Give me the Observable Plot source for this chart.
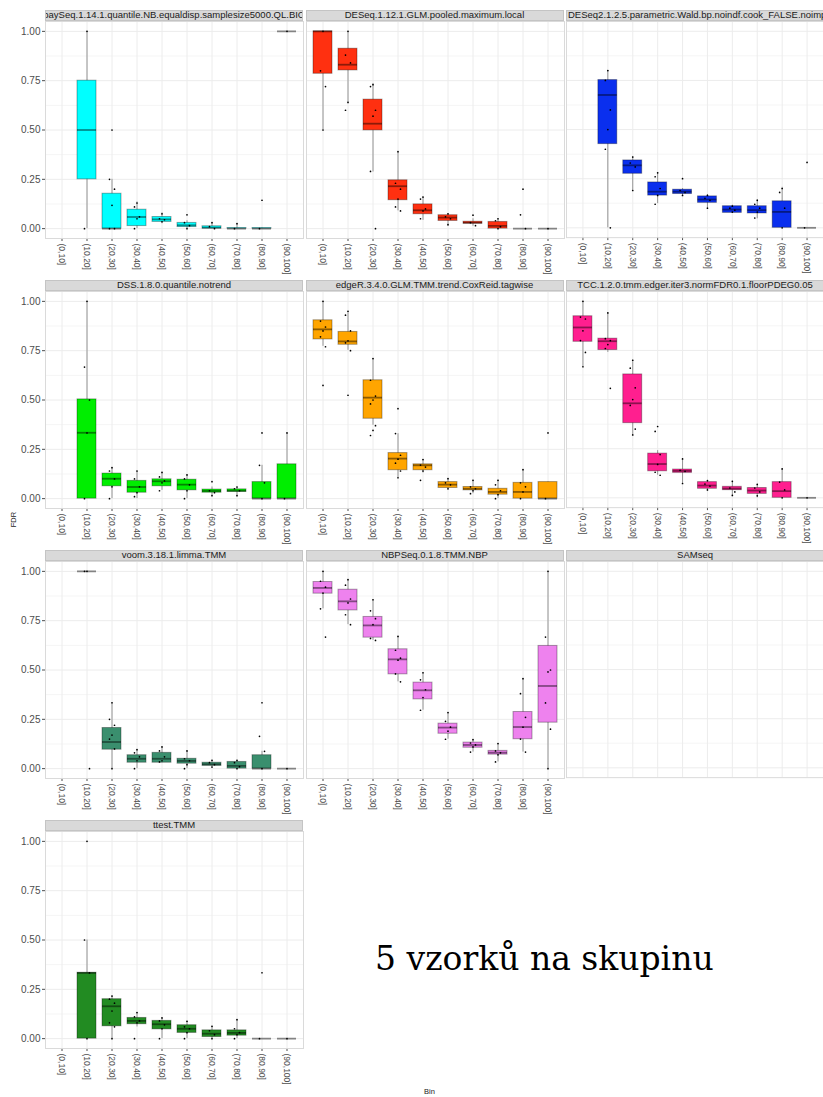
<!DOCTYPE html>
<html><head><meta charset="utf-8">
<script src="https://cdn.jsdelivr.net/npm/d3@7"></script>
<script src="https://cdn.jsdelivr.net/npm/@observablehq/plot@0.6"></script>
<style>
html,body{margin:0;padding:0;background:#fff;overflow:hidden;}
#fig{position:relative;width:823px;height:1097px;font-family:"Liberation Sans",Arial,sans-serif;overflow:hidden;}
.strip{position:absolute;background:#d9d9d9;border:1px solid #c4c4c4;box-sizing:border-box;overflow:hidden;display:flex;justify-content:center;align-items:center;white-space:nowrap;font-size:9.5px;line-height:10px;color:#1a1a1a;}
.strip span{flex-shrink:0;}
.panel{position:absolute;}
.panel svg g[aria-label="y-axis tick label"] text{font-size:10px;}
.lab{position:absolute;font-size:7.5px;color:#1a1a1a;white-space:nowrap;}
.note{position:absolute;font-family:"DejaVu Serif",serif;font-size:33px;color:#000;white-space:nowrap;line-height:34px;}
</style></head><body><div id="fig"></div><script>
const bins = ["(0,10]","(10,20]","(20,30]","(30,40]","(40,50]","(50,60]","(60,70]","(70,80]","(80,90]","(90,100]"];
const yTicks = [0, 0.25, 0.5, 0.75, 1];
const yMinor = [0.125, 0.375, 0.625, 0.875];

const methodNames = [
  "baySeq.1.14.1.quantile.NB.equaldisp.samplesize5000.QL.BIC",
  "DESeq.1.12.1.GLM.pooled.maximum.local",
  "DESeq2.1.2.5.parametric.Wald.bp.noindf.cook_FALSE.noimpute",
  "DSS.1.8.0.quantile.notrend",
  "edgeR.3.4.0.GLM.TMM.trend.CoxReid.tagwise",
  "TCC.1.2.0.tmm.edger.iter3.normFDR0.1.floorPDEG0.05",
  "voom.3.18.1.limma.TMM",
  "NBPSeq.0.1.8.TMM.NBP",
  "SAMseq",
  "ttest.TMM"
];
const methodColors = ["#00FFFF","#FF3010","#0A2FEE","#00EE00","#FFA500","#FF1F8F","#3A8F6E","#EE82EE",null,"#228B22"];

// per bin: [lower whisker, q1, median, q3, upper whisker]
const baySeqStats = [null,[0,0.25,0.5,0.75,1],[0,0,0,0.177,0.25],[0,0.013,0.059,0.096,0.135],[0.025,0.034,0.047,0.059,0.08],[0,0.008,0.017,0.029,0.04],[0,0,0.005,0.012,0.03],[0,0,0,0.003,0.025],[0,0,0,0.003,0.003],[1,1,1,1,1]];
const DESeqStats = [[0.5,0.785,1,1,1],[0.637,0.802,0.831,0.912,1],[0.287,0.498,0.532,0.654,0.735],[0.09,0.144,0.215,0.245,0.389],[0.042,0.073,0.093,0.123,0.16],[0.012,0.039,0.056,0.068,0.076],[0.012,0.025,0.03,0.035,0.05],[0,0,0.014,0.034,0.05],[0,0,0,0,0],[0,0,0,0,0]];
const DESeq2Stats = [null,[0,0.426,0.676,0.752,0.8],[0.186,0.275,0.318,0.343,0.363],[0.123,0.164,0.184,0.231,0.282],[0.164,0.172,0.184,0.194,0.2],[0.101,0.127,0.144,0.16,0.169],[0.073,0.076,0.093,0.11,0.115],[0.046,0.073,0.09,0.11,0.144],[0,0,0.081,0.135,0.206],[0,0,0,0,0]];
const DSSStats = [null,[0,0,0.334,0.503,1],[0,0.0625,0.101,0.127,0.157],[0,0.03,0.059,0.09,0.139],[0.042,0.0625,0.088,0.098,0.133],[0,0.042,0.071,0.096,0.122],[0.014,0.03,0.039,0.046,0.059],[0.014,0.034,0.04,0.047,0.059],[0,0,0,0.084,0.169],[0,0,0,0.174,0.333]];
const edgeRStats = [[0.772,0.807,0.858,0.904,1],[0.752,0.78,0.797,0.845,0.946],[0.372,0.405,0.512,0.6,0.71],[0.106,0.144,0.203,0.231,0.329],[0.13,0.144,0.169,0.174,0.198],[0.042,0.054,0.071,0.084,0.101],[0.025,0.042,0.05,0.059,0.093],[0,0.02,0.034,0.05,0.093],[0,0,0.034,0.08,0.147],[0,0,0,0.084,0.084]];
const TCCStats = [[0.667,0.794,0.867,0.924,1],[0.74,0.752,0.797,0.81,0.941],[0.321,0.38,0.481,0.628,0.701],[0.115,0.135,0.172,0.225,0.24],[0.073,0.127,0.137,0.144,0.198],[0.034,0.046,0.0625,0.08,0.088],[0.012,0.039,0.047,0.056,0.084],[0,0.02,0.037,0.05,0.068],[0,0,0.034,0.08,0.147],[0,0,0,0,0]];
const voomStats = [null,[1,1,1,1,1],[0,0.096,0.135,0.206,0.334],[0,0.03,0.05,0.068,0.096],[0.03,0.03,0.05,0.08,0.11],[0,0.025,0.039,0.05,0.09],[0.008,0.014,0.022,0.03,0.042],[0,0,0.014,0.034,0.042],[0,0,0,0.068,0.088],[0,0,0,0,0]];
const NBPSeqStats = [[0.81,0.887,0.916,0.946,1],[0.73,0.802,0.848,0.907,0.958],[0.65,0.664,0.726,0.769,0.856],[0.44,0.478,0.554,0.605,0.67],[0.296,0.351,0.397,0.436,0.486],[0.149,0.177,0.208,0.228,0.284],[0.084,0.106,0.12,0.132,0.147],[0.034,0.071,0.081,0.09,0.127],[0.084,0.149,0.211,0.287,0.456],[0,0.233,0.419,0.622,1]];
const SAMseqStats = [null,null,null,null,null,null,null,null,null,null];
const ttestStats = [null,[0,0,0.333,0.334,0.5],[0,0.0625,0.164,0.2,0.216],[0.059,0.073,0.09,0.105,0.132],[0,0.047,0.073,0.09,0.105],[0,0.029,0.05,0.068,0.088],[0,0.008,0.025,0.042,0.0625],[0,0.015,0.029,0.042,0.096],[0,0,0,0,0],[0,0,0,0,0]];

// individual FDR values per bin (points)
const baySeqPts = [[],[1,0],[0.5,0.25,0.2,0.118,0,0],[0.13,0.11,0.06,0.05,0],[0.075,0.05,0.045,0.035],[0.07,0.03,0.015,0],[0.03,0.01,0],[0.025,0],[0.144,0],[1]];
const DESeqPts = [[1,0.8,0.72,0.5],[1,0.88,0.84,0.64,0.6],[0.73,0.72,0.6,0.57,0.29,0],[0.39,0.23,0.2,0.15,0.11,0.09],[0.16,0.15,0.1,0.09,0.05],[0.075,0.06,0.05,0.02],[0.068,0.03,0.015],[0.05,0.04,0.01,0],[0.2,0.07,0],[0]];
const DESeq2Pts = [[],[0.8,0.75,0.6,0.5,0.4,0],[0.36,0.33,0.31,0.19],[0.28,0.26,0.2,0.165,0.12],[0.25,0.19,0.18,0.165],[0.165,0.15,0.14,0.1],[0.11,0.1,0.09,0.08],[0.14,0.12,0.1,0.08,0.05],[0.2,0.18,0.1,0],[0.333,0]];
const DSSPts = [[],[1,0.667,0.5,0.333,0],[0.157,0.14,0.1,0.06,0],[0.14,0.1,0.06,0.03,0.01],[0.133,0.11,0.09,0.08,0.04],[0.12,0.1,0.07,0.04,0],[0.086,0.04,0.03,0.015],[0.059,0.05,0.04,0.015],[0.333,0.169,0.08,0],[0.333,0]];
const edgeRPts = [[1,0.9,0.87,0.85,0.82,0.77,0.574],[0.95,0.93,0.85,0.8,0.79,0.75,0.524],[0.71,0.6,0.52,0.5,0.48,0.37,0.346,0.32],[0.456,0.33,0.22,0.2,0.18,0.14,0.106],[0.198,0.17,0.16,0.14,0.093],[0.101,0.08,0.07,0.05],[0.093,0.06,0.05,0.04,0.025],[0.093,0.07,0.04,0.02,0],[0.147,0.08,0.06,0.034,0],[0.333,0]];
const TCCPts = [[1,0.92,0.91,0.85,0.8,0.74,0.667],[0.941,0.81,0.8,0.78,0.76,0.557],[0.7,0.66,0.56,0.5,0.47,0.35,0.32],[0.363,0.338,0.22,0.17,0.13,0.115],[0.198,0.14,0.135,0.073],[0.088,0.07,0.06,0.04],[0.084,0.05,0.03,0.012],[0.068,0.05,0.03,0.01],[0.147,0.08,0.04,0],[0]];
const voomPts = [[],[1,1,0],[0.334,0.25,0.22,0.17,0.15,0.1,0],[0.096,0.08,0.06,0.04,0],[0.11,0.09,0.06,0.04,0.034],[0.09,0.05,0.04,0.02,0],[0.042,0.03,0.02,0.008],[0.042,0.03,0.01,0],[0.334,0.164,0.088,0],[0]];
const NBPSeqPts = [[1,0.95,0.92,0.89,0.81,0.667],[0.958,0.93,0.86,0.84,0.78,0.73],[0.856,0.8,0.76,0.73,0.66,0.65],[0.67,0.6,0.56,0.55,0.48,0.44],[0.486,0.45,0.4,0.36,0.296],[0.284,0.24,0.21,0.19,0.149],[0.147,0.13,0.12,0.11,0.084],[0.127,0.09,0.08,0.07,0.034],[0.456,0.38,0.26,0.21,0.15,0.084],[1,0.667,0.5,0.49,0.333,0.2,0]];
const SAMseqPts = [[],[],[],[],[],[],[],[],[],[]];
const ttestPts = [[],[1,0.5,0.333,0],[0.216,0.2,0.18,0.14,0.08,0.06,0],[0.132,0.11,0.09,0.08,0],[0.105,0.09,0.07,0.05,0],[0.088,0.06,0.05,0.03,0],[0.0625,0.04,0.02,0],[0.096,0.05,0.03,0.02,0],[0.334,0],[0]];

const methodStats = [baySeqStats,DESeqStats,DESeq2Stats,DSSStats,edgeRStats,TCCStats,voomStats,NBPSeqStats,SAMseqStats,ttestStats];
const methodPoints = [baySeqPts,DESeqPts,DESeq2Pts,DSSPts,edgeRPts,TCCPts,voomPts,NBPSeqPts,SAMseqPts,ttestPts];

const colLefts = [45, 305.5, 566];
const rowTops = [21, 291, 561, 831];
const AREA_W = 258, AREA_H = 217, MB = 50;
const fig = document.getElementById("fig");

function makePanel(i) {
  const name = methodNames[i], color = methodColors[i];
  const col = i % 3, row = Math.floor(i / 3);
  const first = col === 0;
  const hasX = !name.startsWith("SAMseq");
  const boxes = [];
  methodStats[i].forEach((s, k) => { if (s) boxes.push({bin: bins[k], lo: s[0], q1: s[1], med: s[2], q3: s[3], hi: s[4]}); });
  const dots = [];
  methodPoints[i].forEach((arr, k) => arr.forEach((v, j) => dots.push({bin: bins[k], v, j})));
  const ML = first ? 45 : 0;
  const marks = [
    Plot.ruleY(yMinor, {stroke: "#f5f5f5"}),
    Plot.ruleY(yTicks, {stroke: "#ececec"}),
    Plot.ruleX(bins, {stroke: "#ececec"})
  ];
  if (boxes.length) {
    marks.push(
      Plot.ruleX(boxes, {x: "bin", y1: "lo", y2: "hi", stroke: "#8a8a8a", strokeWidth: 0.9}),
      Plot.barY(boxes, {x: "bin", y1: "q1", y2: "q3", fill: color, stroke: "#000", strokeOpacity: 0.33, strokeWidth: 1}),
      Plot.tickY(boxes, {x: "bin", y: "med", stroke: "#000", strokeOpacity: 0.45, strokeWidth: 1.8}),
      Plot.dot(dots.filter(d => d.j % 3 === 0), {x: "bin", y: "v", r: 0.85, fill: "#000", stroke: null}),
      Plot.dot(dots.filter(d => d.j % 3 === 1), {x: "bin", y: "v", r: 0.85, fill: "#000", stroke: null, dx: -2.5}),
      Plot.dot(dots.filter(d => d.j % 3 === 2), {x: "bin", y: "v", r: 0.85, fill: "#000", stroke: null, dx: 2.5})
    );
  }
  marks.push(Plot.frame({stroke: "#dadada"}));
  const svg = Plot.plot({
    width: ML + AREA_W, height: AREA_H + MB,
    marginLeft: ML, marginRight: 0, marginTop: 0, marginBottom: MB,
    style: {background: "transparent", overflow: "visible", fontSize: "8.5px", fontFamily: "Liberation Sans, Arial, sans-serif", color: "#4d4d4d"},
    x: {type: "band", domain: bins, paddingInner: 0.25, paddingOuter: 0.225, align: 0.5,
        axis: hasX ? "bottom" : null, tickRotate: 90, tickSize: 3, tickPadding: 2, label: null},
    y: {domain: [-0.05, 1.05], ticks: yTicks, tickFormat: d3.format(".2f"), tickSize: 3, tickPadding: 2,
        label: null, axis: first ? "left" : null},
    marks
  });
  const wrap = document.createElement("div");
  wrap.className = "panel";
  wrap.style.left = (colLefts[col] - ML) + "px";
  wrap.style.top = rowTops[row] + "px";
  wrap.appendChild(svg);
  fig.appendChild(wrap);

  const strip = document.createElement("div");
  strip.className = "strip";
  strip.style.left = colLefts[col] + "px";
  strip.style.top = (rowTops[row] - 11.5) + "px";
  strip.style.width = AREA_W + "px";
  strip.style.height = "11.5px";
  if (col === 2 && row === 0) { strip.style.justifyContent = "flex-start"; strip.style.paddingLeft = "1px"; }
  const sp = document.createElement("span");
  sp.textContent = name;
  strip.appendChild(sp);
  fig.appendChild(strip);
}
for (let i = 0; i < methodNames.length; i++) makePanel(i);

const fdr = document.createElement("div");
fdr.className = "lab";
fdr.textContent = "FDR";
fdr.style.left = "6px"; fdr.style.top = "515px";
fdr.style.transform = "rotate(-90deg)";
fig.appendChild(fdr);

const binLab = document.createElement("div");
binLab.className = "lab";
binLab.textContent = "Bin";
binLab.style.left = "424px"; binLab.style.top = "1087px";
fig.appendChild(binLab);

const note = document.createElement("div");
note.className = "note";
note.textContent = "5 vzorků na skupinu";
note.style.left = "375px"; note.style.top = "942px";
fig.appendChild(note);
</script></body></html>
